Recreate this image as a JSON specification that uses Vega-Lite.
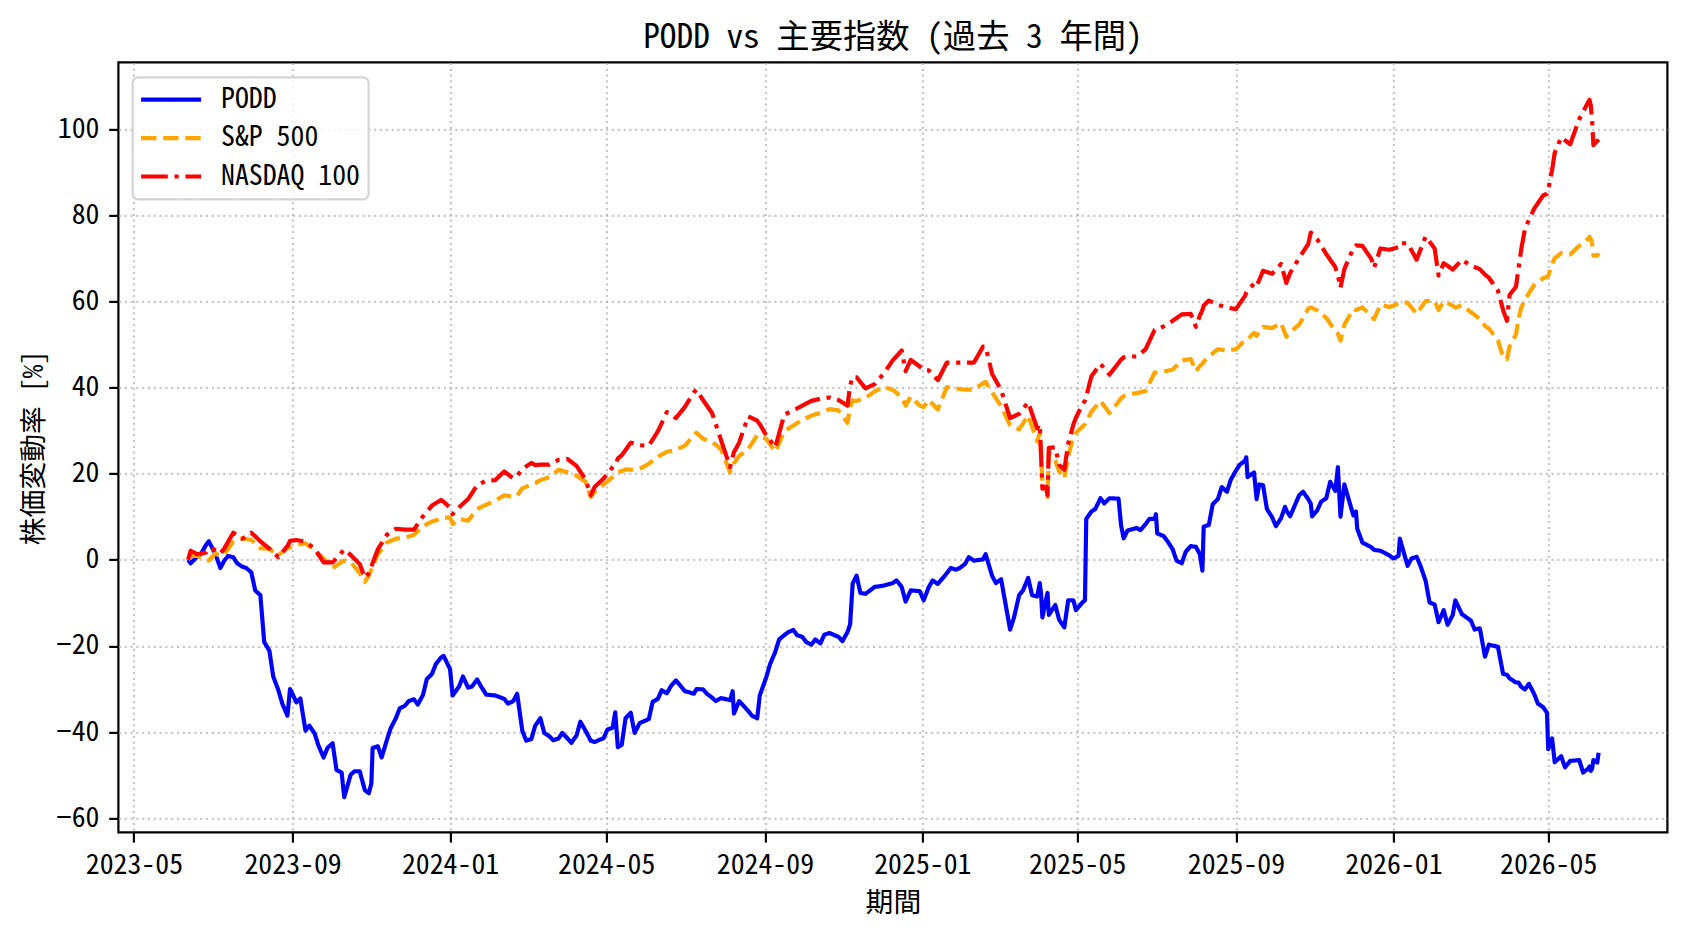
{
"$schema":"https://vega.github.io/schema/vega-lite/v6.json",
"width":1549,"height":770,
"autosize":"none",
"padding":{"left":118.4,"top":62.4,"right":20.6,"bottom":99.6},
"background":"white",
"title":{"text":"PODD vs 主要指数 (過去 3 年間)","font":"Noto Sans Mono CJK JP, Noto Sans CJK JP, sans-serif","fontSize":33.3,"fontWeight":"normal","color":"black","anchor":"middle","frame":"group","offset":15.7,"baseline":"alphabetic","dy":35},
"data":{"values":[
{"d":"2023-06-12","PODD":0,"S&P 500":0,"NASDAQ 100":0},
{"d":"2023-06-14","PODD":-0.8,"S&P 500":0.9,"NASDAQ 100":2.1},
{"d":"2023-06-19","PODD":0.7,"S&P 500":0.9,"NASDAQ 100":1.3},
{"d":"2023-06-26","PODD":3.5,"S&P 500":0.0,"NASDAQ 100":1.7},
{"d":"2023-06-28","PODD":4.3,"S&P 500":-0.2,"NASDAQ 100":2.6},
{"d":"2023-07-03","PODD":1.5,"S&P 500":1.5,"NASDAQ 100":2.3},
{"d":"2023-07-07","PODD":-1.9,"S&P 500":0.9,"NASDAQ 100":1.5},
{"d":"2023-07-10","PODD":-0.2,"S&P 500":1.3,"NASDAQ 100":2.6},
{"d":"2023-07-17","PODD":0.6,"S&P 500":4.2,"NASDAQ 100":6.3},
{"d":"2023-07-24","PODD":-1.6,"S&P 500":5.0,"NASDAQ 100":4.9},
{"d":"2023-07-31","PODD":-2.9,"S&P 500":4.6,"NASDAQ 100":6.3},
{"d":"2023-08-07","PODD":-8.2,"S&P 500":2.7,"NASDAQ 100":4.3},
{"d":"2023-08-14","PODD":-21.1,"S&P 500":2.5,"NASDAQ 100":2.6},
{"d":"2023-08-21","PODD":-30.3,"S&P 500":1.1,"NASDAQ 100":0.6},
{"d":"2023-08-28","PODD":-36.2,"S&P 500":2.7,"NASDAQ 100":3.2},
{"d":"2023-08-30","PODD":-30.0,"S&P 500":2.9,"NASDAQ 100":4.4},
{"d":"2023-09-04","PODD":-33.1,"S&P 500":3.5,"NASDAQ 100":4.6},
{"d":"2023-09-11","PODD":-39.7,"S&P 500":3.8,"NASDAQ 100":4.2},
{"d":"2023-09-18","PODD":-40.3,"S&P 500":2.3,"NASDAQ 100":2.6},
{"d":"2023-09-25","PODD":-45.9,"S&P 500":0.3,"NASDAQ 100":-0.6},
{"d":"2023-10-02","PODD":-42.6,"S&P 500":-1.9,"NASDAQ 100":-0.6},
{"d":"2023-10-09","PODD":-49.4,"S&P 500":-0.5,"NASDAQ 100":1.7},
{"d":"2023-10-11","PODD":-55.1,"S&P 500":-0.2,"NASDAQ 100":2.4},
{"d":"2023-10-16","PODD":-49.9,"S&P 500":-0.5,"NASDAQ 100":1.1},
{"d":"2023-10-23","PODD":-49.1,"S&P 500":-3.1,"NASDAQ 100":-1.0},
{"d":"2023-10-27","PODD":-53.5,"S&P 500":-5.1,"NASDAQ 100":-4.2},
{"d":"2023-10-30","PODD":-54.2,"S&P 500":-3.7,"NASDAQ 100":-3.1},
{"d":"2023-11-06","PODD":-43.3,"S&P 500":1.3,"NASDAQ 100":2.4},
{"d":"2023-11-13","PODD":-41.9,"S&P 500":4.0,"NASDAQ 100":5.8},
{"d":"2023-11-20","PODD":-36.8,"S&P 500":4.9,"NASDAQ 100":7.2},
{"d":"2023-11-27","PODD":-33.9,"S&P 500":5.1,"NASDAQ 100":7.0},
{"d":"2023-12-04","PODD":-32.4,"S&P 500":5.8,"NASDAQ 100":7.0},
{"d":"2023-12-11","PODD":-31.4,"S&P 500":7.8,"NASDAQ 100":10.1},
{"d":"2023-12-18","PODD":-26.5,"S&P 500":8.9,"NASDAQ 100":12.6},
{"d":"2023-12-25","PODD":-22.7,"S&P 500":9.5,"NASDAQ 100":13.9},
{"d":"2023-12-27","PODD":-22.3,"S&P 500":9.8,"NASDAQ 100":13.5},
{"d":"2024-01-01","PODD":-25.4,"S&P 500":9.8,"NASDAQ 100":12.1},
{"d":"2024-01-03","PODD":-31.5,"S&P 500":8.3,"NASDAQ 100":10.6},
{"d":"2024-01-08","PODD":-29.4,"S&P 500":9.5,"NASDAQ 100":12.2},
{"d":"2024-01-15","PODD":-29.7,"S&P 500":9.1,"NASDAQ 100":14.1},
{"d":"2024-01-22","PODD":-27.8,"S&P 500":11.8,"NASDAQ 100":17.3},
{"d":"2024-01-29","PODD":-31.3,"S&P 500":12.8,"NASDAQ 100":18.4},
{"d":"2024-02-05","PODD":-31.5,"S&P 500":13.7,"NASDAQ 100":18.5},
{"d":"2024-02-12","PODD":-32.3,"S&P 500":15.0,"NASDAQ 100":20.5},
{"d":"2024-02-19","PODD":-32.8,"S&P 500":14.6,"NASDAQ 100":18.9},
{"d":"2024-02-22","PODD":-31.1,"S&P 500":14.9,"NASDAQ 100":19.5},
{"d":"2024-02-26","PODD":-39.7,"S&P 500":16.6,"NASDAQ 100":21.1},
{"d":"2024-03-04","PODD":-41.6,"S&P 500":17.5,"NASDAQ 100":22.5},
{"d":"2024-03-07","PODD":-38.5,"S&P 500":17.8,"NASDAQ 100":22.0},
{"d":"2024-03-11","PODD":-36.8,"S&P 500":18.5,"NASDAQ 100":22.1},
{"d":"2024-03-18","PODD":-41.0,"S&P 500":19.2,"NASDAQ 100":22.1},
{"d":"2024-03-25","PODD":-41.5,"S&P 500":20.9,"NASDAQ 100":23.2},
{"d":"2024-04-01","PODD":-41.5,"S&P 500":20.3,"NASDAQ 100":23.4},
{"d":"2024-04-08","PODD":-40.8,"S&P 500":19.5,"NASDAQ 100":21.8},
{"d":"2024-04-15","PODD":-39.7,"S&P 500":18.1,"NASDAQ 100":18.6},
{"d":"2024-04-19","PODD":-42.0,"S&P 500":14.6,"NASDAQ 100":15.0},
{"d":"2024-04-22","PODD":-42.3,"S&P 500":15.8,"NASDAQ 100":16.9},
{"d":"2024-04-29","PODD":-41.4,"S&P 500":17.5,"NASDAQ 100":18.9},
{"d":"2024-05-06","PODD":-39.0,"S&P 500":19.2,"NASDAQ 100":21.5},
{"d":"2024-05-08","PODD":-35.4,"S&P 500":19.8,"NASDAQ 100":22.0},
{"d":"2024-05-10","PODD":-43.5,"S&P 500":20.3,"NASDAQ 100":23.5},
{"d":"2024-05-13","PODD":-43.0,"S&P 500":20.6,"NASDAQ 100":24.3},
{"d":"2024-05-16","PODD":-36.8,"S&P 500":21.0,"NASDAQ 100":25.5},
{"d":"2024-05-20","PODD":-35.5,"S&P 500":20.9,"NASDAQ 100":27.2},
{"d":"2024-05-23","PODD":-40.2,"S&P 500":21.0,"NASDAQ 100":27.0},
{"d":"2024-05-27","PODD":-37.9,"S&P 500":21.1,"NASDAQ 100":26.6},
{"d":"2024-06-03","PODD":-37.0,"S&P 500":22.3,"NASDAQ 100":26.5},
{"d":"2024-06-10","PODD":-32.3,"S&P 500":23.9,"NASDAQ 100":29.8},
{"d":"2024-06-17","PODD":-31.0,"S&P 500":25.1,"NASDAQ 100":34.3},
{"d":"2024-06-24","PODD":-28.0,"S&P 500":25.5,"NASDAQ 100":32.9},
{"d":"2024-07-01","PODD":-30.5,"S&P 500":26.5,"NASDAQ 100":35.5},
{"d":"2024-07-08","PODD":-31.1,"S&P 500":28.9,"NASDAQ 100":38.9},
{"d":"2024-07-10","PODD":-30.0,"S&P 500":29.5,"NASDAQ 100":39.5},
{"d":"2024-07-15","PODD":-30.1,"S&P 500":28.1,"NASDAQ 100":37.1},
{"d":"2024-07-22","PODD":-32.0,"S&P 500":27.4,"NASDAQ 100":34.1},
{"d":"2024-07-29","PODD":-32.1,"S&P 500":25.7,"NASDAQ 100":27.8},
{"d":"2024-08-05","PODD":-32.6,"S&P 500":20.3,"NASDAQ 100":21.5},
{"d":"2024-08-08","PODD":-35.7,"S&P 500":22.5,"NASDAQ 100":25.0},
{"d":"2024-08-12","PODD":-32.8,"S&P 500":24.1,"NASDAQ 100":27.2},
{"d":"2024-08-19","PODD":-35.1,"S&P 500":25.7,"NASDAQ 100":33.3},
{"d":"2024-08-26","PODD":-36.8,"S&P 500":28.9,"NASDAQ 100":32.3},
{"d":"2024-08-28","PODD":-31.5,"S&P 500":28.5,"NASDAQ 100":31.5},
{"d":"2024-09-02","PODD":-27.3,"S&P 500":28.1,"NASDAQ 100":28.9},
{"d":"2024-09-09","PODD":-21.4,"S&P 500":25.1,"NASDAQ 100":26.1},
{"d":"2024-09-16","PODD":-17.5,"S&P 500":29.8,"NASDAQ 100":33.7},
{"d":"2024-09-23","PODD":-16.3,"S&P 500":31.2,"NASDAQ 100":34.7},
{"d":"2024-09-30","PODD":-17.9,"S&P 500":32.5,"NASDAQ 100":35.8},
{"d":"2024-10-07","PODD":-19.7,"S&P 500":33.5,"NASDAQ 100":36.9},
{"d":"2024-10-14","PODD":-19.4,"S&P 500":34.1,"NASDAQ 100":37.4},
{"d":"2024-10-21","PODD":-17.0,"S&P 500":35.0,"NASDAQ 100":37.7},
{"d":"2024-10-28","PODD":-17.9,"S&P 500":34.7,"NASDAQ 100":37.1},
{"d":"2024-11-04","PODD":-16.8,"S&P 500":31.8,"NASDAQ 100":35.8},
{"d":"2024-11-06","PODD":-15.0,"S&P 500":35.5,"NASDAQ 100":40.5},
{"d":"2024-11-08","PODD":-5.5,"S&P 500":37.0,"NASDAQ 100":42.5},
{"d":"2024-11-11","PODD":-3.7,"S&P 500":36.9,"NASDAQ 100":42.4},
{"d":"2024-11-18","PODD":-7.9,"S&P 500":37.6,"NASDAQ 100":39.8},
{"d":"2024-11-25","PODD":-6.3,"S&P 500":39.1,"NASDAQ 100":40.8},
{"d":"2024-12-02","PODD":-6.0,"S&P 500":40.1,"NASDAQ 100":43.2},
{"d":"2024-12-09","PODD":-5.4,"S&P 500":39.5,"NASDAQ 100":46.3},
{"d":"2024-12-16","PODD":-6.3,"S&P 500":37.7,"NASDAQ 100":48.6},
{"d":"2024-12-19","PODD":-9.7,"S&P 500":35.8,"NASDAQ 100":43.8},
{"d":"2024-12-23","PODD":-7.1,"S&P 500":37.9,"NASDAQ 100":46.4},
{"d":"2024-12-30","PODD":-7.3,"S&P 500":35.8,"NASDAQ 100":44.9},
{"d":"2025-01-02","PODD":-9.4,"S&P 500":35.5,"NASDAQ 100":44.0},
{"d":"2025-01-06","PODD":-6.3,"S&P 500":37.1,"NASDAQ 100":44.0},
{"d":"2025-01-13","PODD":-5.6,"S&P 500":34.9,"NASDAQ 100":41.7},
{"d":"2025-01-20","PODD":-3.1,"S&P 500":40.1,"NASDAQ 100":45.8},
{"d":"2025-01-27","PODD":-2.3,"S&P 500":39.8,"NASDAQ 100":45.8},
{"d":"2025-02-03","PODD":-1.0,"S&P 500":39.5,"NASDAQ 100":45.8},
{"d":"2025-02-10","PODD":-0.2,"S&P 500":39.5,"NASDAQ 100":45.8},
{"d":"2025-02-17","PODD":0.1,"S&P 500":41.0,"NASDAQ 100":49.5},
{"d":"2025-02-19","PODD":1.3,"S&P 500":41.3,"NASDAQ 100":49.5},
{"d":"2025-02-24","PODD":-3.7,"S&P 500":38.9,"NASDAQ 100":43.2},
{"d":"2025-03-03","PODD":-4.5,"S&P 500":35.7,"NASDAQ 100":39.4},
{"d":"2025-03-10","PODD":-16.2,"S&P 500":31.2,"NASDAQ 100":32.9},
{"d":"2025-03-17","PODD":-8.2,"S&P 500":30.3,"NASDAQ 100":33.9},
{"d":"2025-03-24","PODD":-4.2,"S&P 500":33.5,"NASDAQ 100":36.6},
{"d":"2025-03-31","PODD":-8.5,"S&P 500":27.5,"NASDAQ 100":30.5},
{"d":"2025-04-02","PODD":-5.4,"S&P 500":29.5,"NASDAQ 100":31.5},
{"d":"2025-04-03","PODD":-8.0,"S&P 500":24.4,"NASDAQ 100":24.0},
{"d":"2025-04-04","PODD":-13.4,"S&P 500":17.5,"NASDAQ 100":16.5},
{"d":"2025-04-07","PODD":-9.0,"S&P 500":16.7,"NASDAQ 100":17.0},
{"d":"2025-04-08","PODD":-7.7,"S&P 500":14.6,"NASDAQ 100":15.0},
{"d":"2025-04-09","PODD":-12.8,"S&P 500":25.0,"NASDAQ 100":26.0},
{"d":"2025-04-14","PODD":-10.5,"S&P 500":23.0,"NASDAQ 100":26.1},
{"d":"2025-04-17","PODD":-13.9,"S&P 500":20.5,"NASDAQ 100":22.0},
{"d":"2025-04-21","PODD":-15.7,"S&P 500":18.9,"NASDAQ 100":20.9},
{"d":"2025-04-24","PODD":-9.4,"S&P 500":24.0,"NASDAQ 100":27.0},
{"d":"2025-04-28","PODD":-9.4,"S&P 500":28.7,"NASDAQ 100":31.4},
{"d":"2025-04-30","PODD":-11.7,"S&P 500":29.5,"NASDAQ 100":33.0},
{"d":"2025-05-05","PODD":-9.9,"S&P 500":30.9,"NASDAQ 100":36.0},
{"d":"2025-05-07","PODD":-9.4,"S&P 500":31.5,"NASDAQ 100":37.0},
{"d":"2025-05-08","PODD":9.5,"S&P 500":32.0,"NASDAQ 100":38.0},
{"d":"2025-05-12","PODD":11.2,"S&P 500":34.4,"NASDAQ 100":42.6},
{"d":"2025-05-19","PODD":14.3,"S&P 500":36.9,"NASDAQ 100":45.5},
{"d":"2025-05-26","PODD":14.3,"S&P 500":34.1,"NASDAQ 100":43.0},
{"d":"2025-06-02","PODD":14.2,"S&P 500":36.7,"NASDAQ 100":45.7},
{"d":"2025-06-04","PODD":8.0,"S&P 500":37.5,"NASDAQ 100":46.5},
{"d":"2025-06-06","PODD":5.0,"S&P 500":38.0,"NASDAQ 100":47.0},
{"d":"2025-06-09","PODD":6.8,"S&P 500":38.4,"NASDAQ 100":47.2},
{"d":"2025-06-16","PODD":7.4,"S&P 500":38.7,"NASDAQ 100":47.2},
{"d":"2025-06-23","PODD":8.3,"S&P 500":39.2,"NASDAQ 100":48.9},
{"d":"2025-06-30","PODD":9.5,"S&P 500":43.5,"NASDAQ 100":53.4},
{"d":"2025-07-01","PODD":10.6,"S&P 500":43.5,"NASDAQ 100":53.5},
{"d":"2025-07-02","PODD":6.1,"S&P 500":43.5,"NASDAQ 100":53.6},
{"d":"2025-07-07","PODD":5.5,"S&P 500":43.7,"NASDAQ 100":54.2},
{"d":"2025-07-14","PODD":2.4,"S&P 500":44.2,"NASDAQ 100":55.5},
{"d":"2025-07-21","PODD":-0.8,"S&P 500":46.3,"NASDAQ 100":57.0},
{"d":"2025-07-28","PODD":3.2,"S&P 500":46.6,"NASDAQ 100":57.1},
{"d":"2025-08-01","PODD":3.0,"S&P 500":43.8,"NASDAQ 100":54.1},
{"d":"2025-08-04","PODD":1.3,"S&P 500":45.0,"NASDAQ 100":56.7},
{"d":"2025-08-06","PODD":-2.5,"S&P 500":45.5,"NASDAQ 100":58.0},
{"d":"2025-08-07","PODD":7.7,"S&P 500":46.0,"NASDAQ 100":59.0},
{"d":"2025-08-11","PODD":8.1,"S&P 500":47.2,"NASDAQ 100":60.2},
{"d":"2025-08-18","PODD":14.1,"S&P 500":48.9,"NASDAQ 100":59.2},
{"d":"2025-08-25","PODD":15.8,"S&P 500":48.6,"NASDAQ 100":58.6},
{"d":"2025-09-01","PODD":20.7,"S&P 500":48.9,"NASDAQ 100":58.2},
{"d":"2025-09-08","PODD":23.0,"S&P 500":51.0,"NASDAQ 100":61.3},
{"d":"2025-09-09","PODD":23.8,"S&P 500":51.0,"NASDAQ 100":62.0},
{"d":"2025-09-10","PODD":19.2,"S&P 500":51.2,"NASDAQ 100":62.5},
{"d":"2025-09-15","PODD":20.3,"S&P 500":52.7,"NASDAQ 100":64.1},
{"d":"2025-09-17","PODD":14.1,"S&P 500":52.0,"NASDAQ 100":63.5},
{"d":"2025-09-22","PODD":17.3,"S&P 500":54.1,"NASDAQ 100":67.1},
{"d":"2025-09-29","PODD":9.9,"S&P 500":53.8,"NASDAQ 100":66.4},
{"d":"2025-10-06","PODD":9.7,"S&P 500":55.0,"NASDAQ 100":68.7},
{"d":"2025-10-10","PODD":11.5,"S&P 500":51.8,"NASDAQ 100":64.3},
{"d":"2025-10-13","PODD":10.1,"S&P 500":52.9,"NASDAQ 100":66.6},
{"d":"2025-10-20","PODD":15.0,"S&P 500":54.6,"NASDAQ 100":70.1},
{"d":"2025-10-27","PODD":14.1,"S&P 500":58.3,"NASDAQ 100":73.3},
{"d":"2025-10-29","PODD":13.0,"S&P 500":58.6,"NASDAQ 100":76.0},
{"d":"2025-11-03","PODD":11.5,"S&P 500":57.9,"NASDAQ 100":74.4},
{"d":"2025-11-10","PODD":14.3,"S&P 500":56.2,"NASDAQ 100":71.0},
{"d":"2025-11-17","PODD":16.0,"S&P 500":53.1,"NASDAQ 100":68.0},
{"d":"2025-11-19","PODD":21.5,"S&P 500":52.5,"NASDAQ 100":66.0},
{"d":"2025-11-21","PODD":10.0,"S&P 500":50.9,"NASDAQ 100":63.2},
{"d":"2025-11-24","PODD":17.5,"S&P 500":54.6,"NASDAQ 100":67.5},
{"d":"2025-12-01","PODD":10.3,"S&P 500":58.2,"NASDAQ 100":72.4},
{"d":"2025-12-03","PODD":11.2,"S&P 500":58.0,"NASDAQ 100":73.0},
{"d":"2025-12-08","PODD":4.0,"S&P 500":58.6,"NASDAQ 100":72.9},
{"d":"2025-12-15","PODD":2.9,"S&P 500":56.6,"NASDAQ 100":69.8},
{"d":"2025-12-17","PODD":2.3,"S&P 500":55.9,"NASDAQ 100":67.8},
{"d":"2025-12-22","PODD":2.1,"S&P 500":59.2,"NASDAQ 100":72.3},
{"d":"2025-12-29","PODD":1.0,"S&P 500":58.7,"NASDAQ 100":72.0},
{"d":"2026-01-05","PODD":0.9,"S&P 500":59.5,"NASDAQ 100":72.6},
{"d":"2026-01-06","PODD":4.9,"S&P 500":59.8,"NASDAQ 100":73.5},
{"d":"2026-01-12","PODD":-1.4,"S&P 500":59.7,"NASDAQ 100":73.5},
{"d":"2026-01-19","PODD":0.7,"S&P 500":57.1,"NASDAQ 100":69.7},
{"d":"2026-01-26","PODD":-4.9,"S&P 500":60.1,"NASDAQ 100":75.1},
{"d":"2026-02-02","PODD":-10.4,"S&P 500":60.1,"NASDAQ 100":72.3},
{"d":"2026-02-05","PODD":-14.5,"S&P 500":58.0,"NASDAQ 100":66.0},
{"d":"2026-02-09","PODD":-11.7,"S&P 500":60.0,"NASDAQ 100":68.9},
{"d":"2026-02-16","PODD":-12.8,"S&P 500":59.0,"NASDAQ 100":67.4},
{"d":"2026-02-18","PODD":-9.4,"S&P 500":58.6,"NASDAQ 100":68.0},
{"d":"2026-02-23","PODD":-12.6,"S&P 500":59.1,"NASDAQ 100":69.7},
{"d":"2026-03-02","PODD":-14.1,"S&P 500":57.5,"NASDAQ 100":68.3},
{"d":"2026-03-09","PODD":-15.9,"S&P 500":55.9,"NASDAQ 100":67.5},
{"d":"2026-03-13","PODD":-22.5,"S&P 500":54.3,"NASDAQ 100":66.2},
{"d":"2026-03-16","PODD":-19.7,"S&P 500":53.7,"NASDAQ 100":65.5},
{"d":"2026-03-23","PODD":-20.2,"S&P 500":51.0,"NASDAQ 100":62.5},
{"d":"2026-03-27","PODD":-26.5,"S&P 500":47.0,"NASDAQ 100":58.0},
{"d":"2026-03-30","PODD":-26.7,"S&P 500":46.6,"NASDAQ 100":55.5},
{"d":"2026-04-01","PODD":-27.5,"S&P 500":49.5,"NASDAQ 100":61.5},
{"d":"2026-04-06","PODD":-28.5,"S&P 500":52.3,"NASDAQ 100":63.4},
{"d":"2026-04-08","PODD":-28.5,"S&P 500":56.0,"NASDAQ 100":67.8},
{"d":"2026-04-10","PODD":-29.5,"S&P 500":58.5,"NASDAQ 100":72.0},
{"d":"2026-04-13","PODD":-30.1,"S&P 500":60.5,"NASDAQ 100":76.9},
{"d":"2026-04-20","PODD":-31.1,"S&P 500":63.8,"NASDAQ 100":81.5},
{"d":"2026-04-27","PODD":-34.2,"S&P 500":65.4,"NASDAQ 100":84.6},
{"d":"2026-04-30","PODD":-35.5,"S&P 500":65.6,"NASDAQ 100":85.0},
{"d":"2026-05-01","PODD":-44.0,"S&P 500":66.0,"NASDAQ 100":86.0},
{"d":"2026-05-04","PODD":-41.5,"S&P 500":68.7,"NASDAQ 100":90.6},
{"d":"2026-05-06","PODD":-47.0,"S&P 500":70.0,"NASDAQ 100":94.5},
{"d":"2026-05-11","PODD":-45.6,"S&P 500":71.2,"NASDAQ 100":98.1},
{"d":"2026-05-18","PODD":-46.7,"S&P 500":70.9,"NASDAQ 100":96.5},
{"d":"2026-05-25","PODD":-46.5,"S&P 500":72.9,"NASDAQ 100":102.3},
{"d":"2026-06-01","PODD":-48.5,"S&P 500":74.6,"NASDAQ 100":106.3},
{"d":"2026-06-02","PODD":-48.0,"S&P 500":75.0,"NASDAQ 100":106.8},
{"d":"2026-06-03","PODD":-49.0,"S&P 500":74.5,"NASDAQ 100":105.5},
{"d":"2026-06-04","PODD":-48.5,"S&P 500":73.5,"NASDAQ 100":102.0},
{"d":"2026-06-05","PODD":-46.5,"S&P 500":70.6,"NASDAQ 100":96.3},
{"d":"2026-06-08","PODD":-47.1,"S&P 500":70.6,"NASDAQ 100":97.3},
{"d":"2026-06-09","PODD":-44.8,"S&P 500":71.2,"NASDAQ 100":96.9},
{"d":"2023-06-22","PODD":1.4},
{"d":"2023-07-13","PODD":0.9},
{"d":"2023-07-20","PODD":-0.8},
{"d":"2023-07-27","PODD":-1.9},
{"d":"2023-08-03","PODD":-7.1},
{"d":"2023-08-10","PODD":-19.1},
{"d":"2023-08-17","PODD":-27.1},
{"d":"2023-08-24","PODD":-33.4},
{"d":"2023-09-07","PODD":-32.2},
{"d":"2023-09-14","PODD":-38.5},
{"d":"2023-09-21","PODD":-43.1},
{"d":"2023-09-28","PODD":-43.7},
{"d":"2023-10-05","PODD":-48.8},
{"d":"2023-10-19","PODD":-49.1},
{"d":"2023-11-01","PODD":-52.0},
{"d":"2023-11-02","PODD":-43.7},
{"d":"2023-11-09","PODD":-45.9},
{"d":"2023-11-16","PODD":-39.1},
{"d":"2023-11-23","PODD":-34.5},
{"d":"2023-11-30","PODD":-32.8},
{"d":"2023-12-07","PODD":-33.6},
{"d":"2023-12-14","PODD":-27.7},
{"d":"2023-12-21","PODD":-24.2},
{"d":"2024-01-11","PODD":-27.1},
{"d":"2024-01-18","PODD":-29.4},
{"d":"2024-01-25","PODD":-29.4},
{"d":"2024-02-15","PODD":-33.4},
{"d":"2024-02-29","PODD":-42.0},
{"d":"2024-03-14","PODD":-40.2},
{"d":"2024-03-21","PODD":-41.9},
{"d":"2024-03-28","PODD":-40.2},
{"d":"2024-04-04","PODD":-42.5},
{"d":"2024-04-11","PODD":-37.6},
{"d":"2024-05-02","PODD":-39.4},
{"d":"2024-06-06","PODD":-33.0},
{"d":"2024-06-13","PODD":-30.3},
{"d":"2024-06-20","PODD":-29.4},
{"d":"2024-07-18","PODD":-31.1},
{"d":"2024-07-25","PODD":-32.8},
{"d":"2024-08-07","PODD":-30.5},
{"d":"2024-08-22","PODD":-36.2},
{"d":"2024-09-05","PODD":-24.2},
{"d":"2024-09-12","PODD":-18.5},
{"d":"2024-09-19","PODD":-16.8},
{"d":"2024-09-26","PODD":-17.5},
{"d":"2024-10-03","PODD":-19.1},
{"d":"2024-10-10","PODD":-18.5},
{"d":"2024-10-17","PODD":-17.4},
{"d":"2024-10-31","PODD":-18.9},
{"d":"2024-11-14","PODD":-7.7},
{"d":"2024-12-12","PODD":-4.8},
{"d":"2025-01-09","PODD":-4.8},
{"d":"2025-01-23","PODD":-1.9},
{"d":"2025-01-30","PODD":-1.9},
{"d":"2025-02-06","PODD":0.6},
{"d":"2025-02-27","PODD":-5.4},
{"d":"2025-03-13","PODD":-13.4},
{"d":"2025-03-20","PODD":-7.1},
{"d":"2025-03-27","PODD":-8.2},
{"d":"2025-05-15","PODD":11.8},
{"d":"2025-05-22","PODD":13.1},
{"d":"2025-06-19","PODD":6.9},
{"d":"2025-06-26","PODD":9.5},
{"d":"2025-07-10","PODD":4.3},
{"d":"2025-07-17","PODD":-0.2},
{"d":"2025-07-24","PODD":1.8},
{"d":"2025-08-14","PODD":12.9},
{"d":"2025-08-21","PODD":16.9},
{"d":"2025-08-28","PODD":18.6},
{"d":"2025-09-04","PODD":22.1},
{"d":"2025-09-19","PODD":17.5},
{"d":"2025-09-25","PODD":11.8},
{"d":"2025-10-02","PODD":7.8},
{"d":"2025-10-09","PODD":12.3},
{"d":"2025-10-23","PODD":15.8},
{"d":"2025-10-30","PODD":10.1},
{"d":"2025-11-06","PODD":13.5},
{"d":"2025-11-13","PODD":18.1},
{"d":"2025-12-04","PODD":7.2},
{"d":"2026-01-01","PODD":0.3},
{"d":"2026-01-15","PODD":0.3},
{"d":"2026-01-22","PODD":-1.4},
{"d":"2026-01-29","PODD":-9.9},
{"d":"2026-02-12","PODD":-15.1},
{"d":"2026-03-05","PODD":-16.2},
{"d":"2026-04-16","PODD":-28.8},
{"d":"2026-04-23","PODD":-33.4},
{"d":"2026-05-14","PODD":-48.2},
{"d":"2026-05-28","PODD":-49.4}
]},
"transform":[{"fold":["PODD","S&P 500","NASDAQ 100"],"as":["series","value"]},{"filter":"isValid(datum.value)"}],
"mark":{"type":"line","strokeWidth":4.17,"strokeJoin":"round"},
"encoding":{
"x":{"field":"d","type":"temporal","title":"期間",
 "scale":{"type":"utc","domain":[{"year":2023,"month":4,"date":19,"utc":true},{"year":2026,"month":8,"date":1,"hours":8,"utc":true}]},
 "axis":{"values":[{"year":2023,"month":5,"date":1,"utc":true},{"year":2023,"month":9,"date":1,"utc":true},{"year":2024,"month":1,"date":1,"utc":true},{"year":2024,"month":5,"date":1,"utc":true},{"year":2024,"month":9,"date":1,"utc":true},{"year":2025,"month":1,"date":1,"utc":true},{"year":2025,"month":5,"date":1,"utc":true},{"year":2025,"month":9,"date":1,"utc":true},{"year":2026,"month":1,"date":1,"utc":true},{"year":2026,"month":5,"date":1,"utc":true}],
 "labelExpr":"utcFormat(datum.value, '%Y-%m')","labelAlign":"center","labelBaseline":"top","titleX":774.5,"titleY":71,"titleAlign":"center","titleBaseline":"middle","titleAngle":0}},
"y":{"field":"value","type":"quantitative","title":"株価変動率 [%]",
 "scale":{"domain":[-63.3,115.5],"nice":false,"zero":false},
 "axis":{"values":[-60,-40,-20,0,20,40,60,80,100],"format":"d","titleX":-84,"titleY":385,"titleAlign":"center","titleBaseline":"middle","titleAngle":270}},
"color":{"field":"series","type":"nominal","title":null,
 "scale":{"domain":["PODD","S&P 500","NASDAQ 100"],"range":["#0000ff","#ffa500","#ff0000"]},
 "legend":{"orient":"none","legendX":14.2,"legendY":14.9,"symbolType":"M-3,0H3","symbolSize":400,"symbolStrokeWidth":4.17,"symbolOffset":16.1,"labelOffset":36,"rowPadding":9.4,"padding":8.5,"strokeColor":"#d4d4d4","fillColor":"rgba(255,255,255,0.8)","cornerRadius":5.6,"labelFontSize":27.8,"labelColor":"black","labelFont":"Noto Sans Mono CJK JP, Noto Sans CJK JP, sans-serif","labelLimit":400}},
"strokeDash":{"field":"series","type":"nominal","title":null,
 "scale":{"domain":["PODD","S&P 500","NASDAQ 100"],"range":[[1,0],[15.4,6.7],[26.7,6.7,4.2,6.7]]},
 "legend":{"orient":"none","legendX":14.2,"legendY":14.9,"symbolType":"M-3,0H3","symbolSize":400,"symbolStrokeWidth":4.17,"symbolOffset":16.1,"labelOffset":36,"rowPadding":9.4,"padding":8.5,"strokeColor":"#d4d4d4","fillColor":"rgba(255,255,255,0.8)","cornerRadius":5.6,"labelFontSize":27.8,"labelColor":"black","labelFont":"Noto Sans Mono CJK JP, Noto Sans CJK JP, sans-serif","labelLimit":400}}
},
"config":{
 "view":{"stroke":"black","strokeWidth":2.2},
 "legend":{"strokeWidth":2.2},
 "axis":{"domain":false,"grid":true,"gridColor":"#b0b0b0","gridOpacity":0.7,"gridDash":[2.2,3.6],"gridWidth":2.2,
  "ticks":true,"tickColor":"black","tickSize":9.7,"tickWidth":2.2,
  "labelFont":"Noto Sans Mono CJK JP, Noto Sans CJK JP, sans-serif","labelFontSize":27.8,"labelColor":"black","labelPadding":9.7,"labelOverlap":false,
  "titleFont":"Noto Sans Mono CJK JP, Noto Sans CJK JP, sans-serif","titleFontSize":27.8,"titleFontWeight":"normal","titleColor":"black"}
}
}
